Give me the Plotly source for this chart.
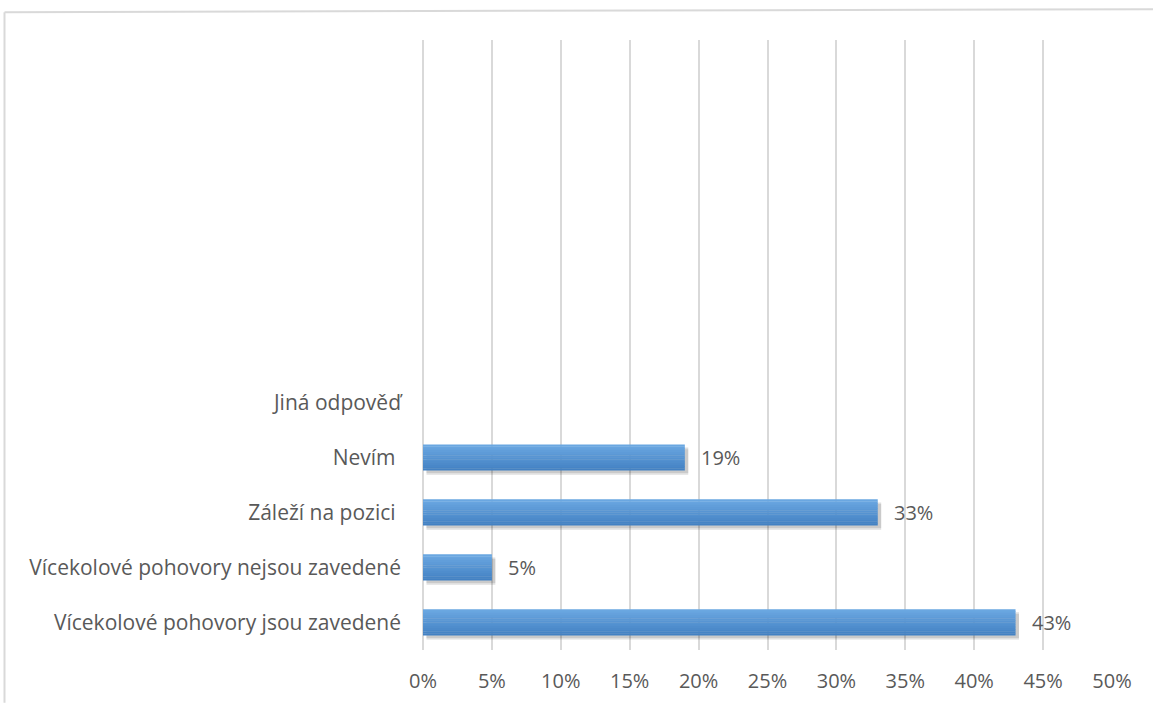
import plotly.graph_objects as go

# Survey answers, listed bottom to top, with their shares in percent
categories = [
    "Vícekolové pohovory jsou zavedené",
    "Vícekolové pohovory nejsou zavedené",
    "Záleží na pozici ",
    "Nevím ",
    "Jiná odpověď",
]
values = [43, 5, 33, 19, 0]
value_labels = ["43%", "5%", "33%", "19%", ""]
x_ticks = [0, 5, 10, 15, 20, 25, 30, 35, 40, 45, 50]
x_tick_labels = [f"{t}%" for t in x_ticks]

positions = list(range(len(categories)))

W, H = 1153, 706
ML, MR, MT, MB = 423, 41, 40, 53
TEXT = "#595959"
GRID = "#d9d9d9"
FONT = "Open Sans"

bar_w = 0.47
fig = go.Figure()

# soft drop shadow under each bar
for dy, alpha in [(0.08, 0.09), (0.05, 0.13)]:
    fig.add_trace(go.Bar(
        x=values, y=positions, orientation="h", base=0.25,
        width=bar_w, offset=-bar_w / 2 - dy,
        marker=dict(color=f"rgba(0,0,0,{alpha})", line=dict(width=0)),
        hoverinfo="skip", showlegend=False,
    ))

# vertical gradient built from stacked horizontal strips
top = (0x6a, 0xa7, 0xe1)
bottom = (0x43, 0x81, 0xc3)
n_strips = 14
strip = bar_w / n_strips
for i in range(n_strips):
    t = i / (n_strips - 1)
    c = tuple(round(bottom[k] + (top[k] - bottom[k]) * t) for k in range(3))
    fig.add_trace(go.Bar(
        x=values, y=positions, orientation="h",
        width=strip + 0.006, offset=-bar_w / 2 + i * strip,
        marker=dict(color="rgb(%d,%d,%d)" % c, line=dict(width=0)),
        hoverinfo="skip", showlegend=False,
    ))

# value labels to the right of the bars
for v, p, lab in zip(values, positions, value_labels):
    if lab:
        fig.add_annotation(
            x=v, y=p, text=lab, showarrow=False, xanchor="left", yanchor="middle",
            xshift=14, font=dict(family=FONT, size=20, color=TEXT),
        )

# outer chart frame (left and top edges)
def px_x(px):
    return (px - ML) / (W - ML - MR)

def px_y(py):
    return (H - MB - py) / (H - MT - MB)

frame = dict(color=GRID, width=2)
fig.add_shape(type="line", xref="paper", yref="paper",
              x0=px_x(4.5), y0=px_y(12), x1=px_x(4.5), y1=px_y(706), line=frame)
fig.add_shape(type="line", xref="paper", yref="paper",
              x0=px_x(4.5), y0=px_y(12), x1=px_x(1153), y1=px_y(9), line=frame)

fig.update_layout(
    width=W, height=H,
    margin=dict(l=ML, r=MR, t=MT, b=MB),
    barmode="overlay",
    plot_bgcolor="white", paper_bgcolor="white",
    font=dict(family=FONT, size=20, color=TEXT),
    xaxis=dict(
        range=[0, 50], tickvals=x_ticks, ticktext=x_tick_labels,
        showgrid=True, gridcolor=GRID, gridwidth=1.5,
        zeroline=True, zerolinecolor=GRID, zerolinewidth=1.5,
        showline=False, ticks="",
        ticklabelstandoff=17, fixedrange=True,
    ),
    yaxis=dict(
        range=[-0.5, 10.6], tickvals=positions, ticktext=categories,
        showgrid=False, zeroline=False, showline=False, ticks="",
        tickfont=dict(size=21),
        ticklabelstandoff=21, fixedrange=True,
    ),
)

fig.write_html("out.html")
